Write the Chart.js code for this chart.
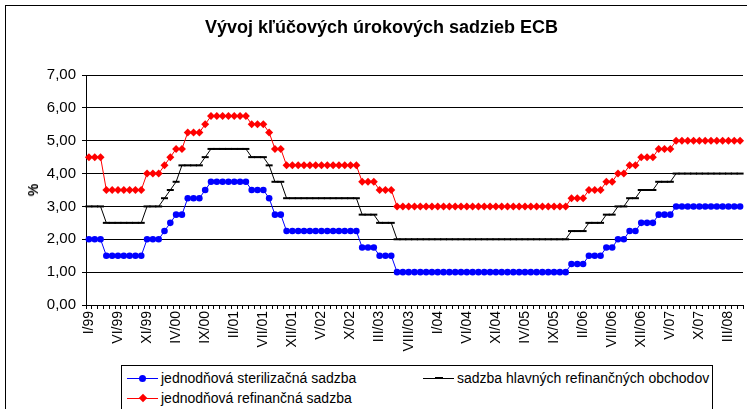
<!DOCTYPE html>
<html><head><meta charset="utf-8">
<script src="https://cdn.jsdelivr.net/npm/chart.js@4/dist/chart.umd.min.js"></script>
<style>
html,body{margin:0;padding:0;background:#fff;overflow:hidden;width:747px;height:409px;}
#wrap{position:relative;width:747px;height:409px;font-family:"Liberation Sans",Arial,sans-serif;color:#000;overflow:hidden;}
#frame{position:absolute;left:5px;top:5px;width:760px;height:430px;border:1px solid #000;box-sizing:border-box;}
#title{position:absolute;left:0;width:763px;top:17px;text-align:center;font-weight:bold;font-size:18px;line-height:20px;}
#ylab{position:absolute;left:33px;top:190px;transform:translate(-50%,-50%) rotate(-90deg);font-weight:bold;font-size:14px;}
canvas{position:absolute;left:0;top:0;}
#legend{position:absolute;left:121px;top:365px;width:592px;height:60px;border:1px solid #000;box-sizing:border-box;background:#fff;font-size:14px;}
.it{position:absolute;height:16px;line-height:16px;white-space:nowrap;}
.sym{position:absolute;left:0;top:0;width:31px;height:16px;}
.sym .ln{position:absolute;left:0;right:0;top:7.5px;height:1px;}
.txt{position:absolute;left:34px;top:0;}
</style></head>
<body><div id="wrap">
<div id="frame"></div>
<canvas id="c" width="749" height="409"></canvas>
<div id="title">Vývoj kľúčových úrokových sadzieb ECB</div>
<div id="ylab">%</div>
<div id="legend"></div>
</div>
<script>
// Categories: monthly, I/99 .. V/08
const months = [
 'I/99','II/99','III/99','IV/99','V/99','VI/99','VII/99','VIII/99','IX/99','X/99','XI/99','XII/99',
 'I/00','II/00','III/00','IV/00','V/00','VI/00','VII/00','VIII/00','IX/00','X/00','XI/00','XII/00',
 'I/01','II/01','III/01','IV/01','V/01','VI/01','VII/01','VIII/01','IX/01','X/01','XI/01','XII/01',
 'I/02','II/02','III/02','IV/02','V/02','VI/02','VII/02','VIII/02','IX/02','X/02','XI/02','XII/02',
 'I/03','II/03','III/03','IV/03','V/03','VI/03','VII/03','VIII/03','IX/03','X/03','XI/03','XII/03',
 'I/04','II/04','III/04','IV/04','V/04','VI/04','VII/04','VIII/04','IX/04','X/04','XI/04','XII/04',
 'I/05','II/05','III/05','IV/05','V/05','VI/05','VII/05','VIII/05','IX/05','X/05','XI/05','XII/05',
 'I/06','II/06','III/06','IV/06','V/06','VI/06','VII/06','VIII/06','IX/06','X/06','XI/06','XII/06',
 'I/07','II/07','III/07','IV/07','V/07','VI/07','VII/07','VIII/07','IX/07','X/07','XI/07','XII/07',
 'I/08','II/08','III/08','IV/08','V/08'
];
// Tick labels shown on the axis
const shownTicks = ['I/99','VI/99','XI/99','IV/00','IX/00','II/01','VII/01','XII/01','V/02','X/02',
 'III/03','VIII/03','I/04','VI/04','XI/04','IV/05','IX/05','II/06','VII/06','XII/06','V/07','X/07','III/08'];
const yTicks = [0,1,2,3,4,5,6,7];

const sterilizacna = [
 2,2,2,1.5,1.5,1.5,1.5,1.5,1.5,1.5,2,2,
 2,2.25,2.5,2.75,2.75,3.25,3.25,3.25,3.5,3.75,3.75,3.75,
 3.75,3.75,3.75,3.75,3.5,3.5,3.5,3.25,2.75,2.75,2.25,2.25,
 2.25,2.25,2.25,2.25,2.25,2.25,2.25,2.25,2.25,2.25,2.25,1.75,
 1.75,1.75,1.5,1.5,1.5,1,1,1,1,1,1,1,
 1,1,1,1,1,1,1,1,1,1,1,1,
 1,1,1,1,1,1,1,1,1,1,1,1.25,
 1.25,1.25,1.5,1.5,1.5,1.75,1.75,2,2,2.25,2.25,2.5,
 2.5,2.5,2.75,2.75,2.75,3,3,3,3,3,3,3,
 3,3,3,3,3
];
const hlavne = [
 3,3,3,2.5,2.5,2.5,2.5,2.5,2.5,2.5,3,3,
 3,3.25,3.5,3.75,4.25,4.25,4.25,4.25,4.5,4.75,4.75,4.75,
 4.75,4.75,4.75,4.75,4.5,4.5,4.5,4.25,3.75,3.75,3.25,3.25,
 3.25,3.25,3.25,3.25,3.25,3.25,3.25,3.25,3.25,3.25,3.25,2.75,
 2.75,2.75,2.5,2.5,2.5,2,2,2,2,2,2,2,
 2,2,2,2,2,2,2,2,2,2,2,2,
 2,2,2,2,2,2,2,2,2,2,2,2.25,
 2.25,2.25,2.5,2.5,2.5,2.75,2.75,3,3,3.25,3.25,3.5,
 3.5,3.5,3.75,3.75,3.75,4,4,4,4,4,4,4,
 4,4,4,4,4
];
const refinancna = [
 4.5,4.5,4.5,3.5,3.5,3.5,3.5,3.5,3.5,3.5,4,4,
 4,4.25,4.5,4.75,4.75,5.25,5.25,5.25,5.5,5.75,5.75,5.75,
 5.75,5.75,5.75,5.75,5.5,5.5,5.5,5.25,4.75,4.75,4.25,4.25,
 4.25,4.25,4.25,4.25,4.25,4.25,4.25,4.25,4.25,4.25,4.25,3.75,
 3.75,3.75,3.5,3.5,3.5,3,3,3,3,3,3,3,
 3,3,3,3,3,3,3,3,3,3,3,3,
 3,3,3,3,3,3,3,3,3,3,3,3.25,
 3.25,3.25,3.5,3.5,3.5,3.75,3.75,4,4,4.25,4.25,4.5,
 4.5,4.5,4.75,4.75,4.75,5,5,5,5,5,5,5,
 5,5,5,5,5
];
const seriesNames = ['jednodňová sterilizačná sadzba','sadzba hlavných refinančných obchodov','jednodňová refinančná sadzba'];
const seriesColors = ['#0000ff','#000000','#ff0000'];

const FONT = '"Liberation Sans", Arial, sans-serif';
const ctx = document.getElementById('c').getContext('2d');
new Chart(ctx, {
  type: 'line',
  data: {
    labels: months,
    datasets: [
      {label: seriesNames[0], data: sterilizacna, borderColor: seriesColors[0], backgroundColor: seriesColors[0],
       borderWidth: 1, pointStyle: 'circle', pointRadius: 3.3, pointBorderWidth: 0, pointBackgroundColor: seriesColors[0], tension: 0},
      {label: seriesNames[1], data: hlavne, borderColor: seriesColors[1], backgroundColor: seriesColors[1],
       borderWidth: 1, pointStyle: 'line', pointRadius: 3.5, pointBorderWidth: 2, pointBorderColor: seriesColors[1], tension: 0},
      {label: seriesNames[2], data: refinancna, borderColor: seriesColors[2], backgroundColor: seriesColors[2],
       borderWidth: 1, pointStyle: 'rectRot', pointRadius: 4, pointBorderWidth: 0, pointBackgroundColor: seriesColors[2], tension: 0}
    ]
  },
  options: {
    responsive: false, animation: false, devicePixelRatio: 1,
    layout: {padding: {left: 0, right: 0, top: 75, bottom: 0}},
    plugins: {legend: {display: false}, title: {display: false}, tooltip: {enabled: false}},
    scales: {
      x: {
        offset: true,
        grid: {offset: true, drawOnChartArea: false, drawTicks: true, tickLength: 4, color: '#000', lineWidth: 1},
        border: {color: '#000', width: 1},
        ticks: {autoSkip: false, maxRotation: 90, minRotation: 90, padding: 2, color: '#000',
          font: {size: 14, family: FONT},
          callback: function(v, i) { const l = months[i]; return shownTicks.includes(l) ? l : ''; }},
        afterFit: function(s) { s.height = 104; s.paddingLeft = 0; s.paddingRight = 0; }
      },
      y: {
        min: 0, max: 7,
        afterBuildTicks: function(s) { s.ticks = yTicks.map(v => ({value: v})); },
        grid: {color: '#000', lineWidth: 1, tickLength: 4},
        border: {color: '#000', width: 1},
        ticks: {padding: 6, color: '#000', font: {size: 15, family: FONT},
          callback: v => v.toFixed(2).replace('.', ',')},
        afterFit: function(s) { s.width = 86; }
      }
    }
  }
});

// legend (HTML, built from the series names/colours)
const lg = document.getElementById('legend');
const pos = [[5, 4], [301, 4], [5, 24]];
const marks = ['circle', 'dash', 'diamond'];
seriesNames.forEach((n, i) => {
  const it = document.createElement('div');
  it.className = 'it';
  it.style.left = pos[i][0] + 'px'; it.style.top = pos[i][1] + 'px';
  const c = seriesColors[i];
  let mk = '';
  if (marks[i] === 'circle') mk = `<div style="position:absolute;left:12px;top:4.5px;width:7px;height:7px;border-radius:50%;background:${c}"></div>`;
  if (marks[i] === 'dash') mk = `<div style="position:absolute;left:12px;top:7px;width:8px;height:2px;background:${c}"></div>`;
  if (marks[i] === 'diamond') mk = `<div style="position:absolute;left:12.5px;top:5px;width:6px;height:6px;transform:rotate(45deg);background:${c}"></div>`;
  it.innerHTML = `<div class="sym"><div class="ln" style="background:${c}"></div>${mk}</div><span class="txt">${n}</span>`;
  lg.appendChild(it);
});
</script>
</body></html>
